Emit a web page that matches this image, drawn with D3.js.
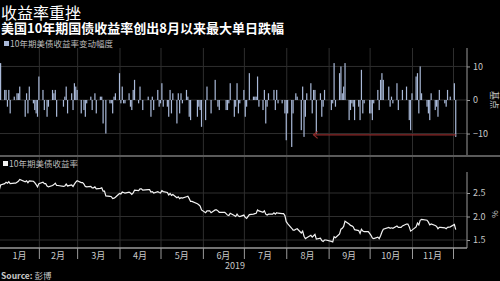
<!DOCTYPE html>
<html>
<head>
<meta charset="utf-8">
<script src="https://cdn.jsdelivr.net/npm/d3@7"></script>
<style>
  body { margin: 0; background: #000; }
  svg { display: block; font-family: "Noto Sans CJK SC", "Noto Sans", sans-serif; }
  .axis text { fill: #c8c8c8; font-size: 9px; font-family: "Noto Sans CJK SC", sans-serif; }
  .axis path, .axis line { stroke: #9a9a9a; }
  .grid line { stroke: #2e2e2e; }
  .grid path { display: none; }
</style>
</head>
<body>
<div id="chart"></div>
<script>
// trading days of 2019, one list per month
const tradingDays = [
  [2,3,4,7,8,9,10,11,14,15,16,17,18,22,23,24,25,28,29,30,31],
  [1,4,5,6,7,8,11,12,13,14,15,19,20,21,22,25,26,27,28],
  [1,4,5,6,7,8,11,12,13,14,15,18,19,20,21,22,25,26,27,28,29],
  [1,2,3,4,5,8,9,10,11,12,15,16,17,18,22,23,24,25,26,29,30],
  [1,2,3,6,7,8,9,10,13,14,15,16,17,20,21,22,23,24,28,29,30,31],
  [3,4,5,6,7,10,11,12,13,14,17,18,19,20,21,24,25,26,27,28],
  [1,2,3,5,8,9,10,11,12,15,16,17,18,19,22,23,24,25,26,29,30,31],
  [1,2,5,6,7,8,9,12,13,14,15,16,19,20,21,22,23,26,27,28,29,30],
  [3,4,5,6,9,10,11,12,13,16,17,18,19,20,23,24,25,26,27,30],
  [1,2,3,4,7,8,9,10,11,15,16,17,18,21,22,23,24,25,28,29,30,31],
  [1,4,5,6,7,8,12,13,14,15,18,19,20,21,22,25,26,27,29],
  [2,3]
];

// 10-year yield, %
const yields = [
  [2.66,2.56,2.67,2.70,2.73,2.71,2.74,2.70,2.71,2.71,2.73,2.75,2.79,2.74,2.76,2.72,2.76,2.75,2.72,2.68,2.63],
  [2.70,2.73,2.70,2.70,2.65,2.63,2.66,2.68,2.71,2.66,2.66,2.64,2.65,2.69,2.65,2.67,2.64,2.69,2.73],
  [2.76,2.72,2.72,2.69,2.64,2.63,2.64,2.61,2.61,2.63,2.59,2.60,2.61,2.54,2.54,2.44,2.43,2.42,2.38,2.39,2.41],
  [2.49,2.48,2.52,2.51,2.50,2.52,2.50,2.47,2.50,2.56,2.55,2.59,2.59,2.56,2.57,2.57,2.52,2.53,2.50,2.53,2.51],
  [2.50,2.55,2.53,2.51,2.46,2.49,2.45,2.47,2.40,2.42,2.38,2.40,2.39,2.42,2.43,2.38,2.32,2.32,2.27,2.25,2.22,2.14],
  [2.08,2.12,2.12,2.12,2.08,2.14,2.14,2.12,2.09,2.09,2.09,2.06,2.03,2.02,2.07,2.02,2.00,2.05,2.01,2.00],
  [2.03,1.98,1.96,2.04,2.05,2.06,2.07,2.14,2.12,2.09,2.12,2.05,2.03,2.05,2.05,2.08,2.05,2.08,2.07,2.06,2.06,2.02],
  [1.89,1.85,1.75,1.71,1.71,1.73,1.74,1.65,1.69,1.58,1.53,1.55,1.60,1.56,1.59,1.62,1.52,1.54,1.49,1.47,1.50,1.50],
  [1.47,1.46,1.57,1.55,1.63,1.73,1.75,1.79,1.90,1.84,1.81,1.80,1.78,1.72,1.70,1.64,1.73,1.69,1.68,1.68],
  [1.64,1.60,1.54,1.53,1.56,1.53,1.59,1.67,1.73,1.77,1.75,1.76,1.75,1.80,1.77,1.77,1.77,1.80,1.84,1.84,1.78,1.69],
  [1.71,1.78,1.86,1.82,1.92,1.94,1.92,1.88,1.82,1.84,1.81,1.79,1.74,1.77,1.77,1.76,1.74,1.77,1.78],
  [1.83,1.72]
];

// daily change, basis points
const changes = [
  [-3,-10,11,3,3,-2,3,-4,1,0,2,2,4,-5,2,-4,4,-1,-3,-4,-5],
  [7,3,-3,0,-5,-2,3,2,3,-5,0,-2,1,4,-4,2,-3,5,4],
  [3,-4,0,-3,-5,-1,1,-3,0,2,-4,1,1,-7,0,-10,-1,-1,-4,1,2],
  [8,-1,4,-1,-1,2,-2,-3,3,6,-1,4,0,-3,1,0,-5,1,-3,3,-2],
  [-1,5,-2,-2,-5,3,-4,2,-7,2,-4,2,-1,3,1,-5,-6,0,-5,-2,-3,-8],
  [-6,4,0,0,-4,6,0,-2,-3,0,0,-3,-3,-1,5,-5,-2,5,-4,-1],
  [3,-5,-2,8,1,1,1,7,-2,-3,3,-7,-2,2,0,3,-3,3,-1,-1,0,-4],
  [-12,-4,-14,-4,0,2,1,-9,4,-11,-5,2,5,-4,3,3,-10,2,-5,-2,3,0],
  [-3,-1,11,-2,8,10,2,4,11,-6,-3,-1,-2,-6,-2,-6,9,-4,-1,0],
  [-4,-4,-6,-1,3,-3,6,8,6,4,-2,1,-1,5,-3,0,0,3,4,0,-6,-9],
  [2,7,8,-4,10,2,-2,-4,-6,2,-3,-2,-5,3,0,-1,-2,3,1],
  [5,-11]
];

const monthLabels = ['1月','2月','3月','4月','5月','6月','7月','8月','9月','10月','11月'];
const barTicks = [-10, 0, 10];
const yieldTicks = [1.5, 2.0, 2.5];

const series = [];
tradingDays.forEach((days, m) => days.forEach((d, i) => {
    series.push({date: new Date(2019, m, d), yld: yields[m][i], chg: changes[m][i]});
}));

const width = 500, height = 281;
const plotRight = 467;

const svg = d3.select('#chart').append('svg')
    .attr('width', width)
    .attr('height', height)
    .style('background', '#000');

svg.append('defs').append('clipPath').attr('id', 'plotClip')
    .append('rect').attr('x', 0).attr('y', 0).attr('width', plotRight).attr('height', height);

// Titles
svg.append('text').attr('x', 1).attr('y', 18.5)
    .attr('fill', '#fff').style('font-size', '16px')
    .text('收益率重挫');
svg.append('text').attr('x', 1).attr('y', 33)
    .attr('fill', '#fff').style('font-size', '13px').style('font-weight', 'bold')
    .text('美国10年期国债收益率创出8月以来最大单日跌幅');

// Scales
const x = d3.scaleTime()
    .domain([new Date(2019, 0, 1), new Date(2019, 11, 1)])
    .range([-3.5, 453]);

const topPanel = {y0: 48, y1: 155};
const yBar = d3.scaleLinear().domain([-16.4, 15.5]).range([topPanel.y1, topPanel.y0]);

const botPanel = {y0: 157, y1: 248};
const yYield = d3.scaleLinear().domain([1.33, 2.947]).range([248, 172]);

const monthStarts = d3.timeMonth.range(new Date(2019, 1, 1), new Date(2019, 11, 2));

// ---------- top panel ----------
svg.append('g').attr('class', 'grid')
    .attr('transform', `translate(0,${topPanel.y1})`)
    .call(d3.axisBottom(x).tickValues(monthStarts).tickSize(-(topPanel.y1 - topPanel.y0)).tickFormat(''));

svg.append('g').attr('class', 'grid')
    .selectAll('line').data(barTicks).join('line')
    .attr('x1', 0).attr('x2', plotRight)
    .attr('y1', d => yBar(d)).attr('y2', d => yBar(d));

svg.append('g').attr('clip-path', 'url(#plotClip)')
    .selectAll('rect').data(series).join('rect')
    .attr('x', d => x(d.date) - 0.6)
    .attr('width', 1.2)
    .attr('y', d => yBar(Math.max(0, d.chg)))
    .attr('height', d => Math.abs(yBar(d.chg) - yBar(0)))
    .attr('fill', '#a9b9d8');

// red arrow pointing back to the previous comparable drop
const last = series[series.length - 1];
const arrowFrom = new Date(2019, 7, 21);
const arrowY = yBar(last.chg + 0.6);
svg.append('line')
    .attr('x1', x(arrowFrom)).attr('x2', x(last.date))
    .attr('y1', arrowY).attr('y2', arrowY)
    .attr('stroke', '#8e2a2a').attr('stroke-width', 1.4);
svg.append('path')
    .attr('d', `M${x(arrowFrom) + 4},${arrowY - 3.5}L${x(arrowFrom)},${arrowY}L${x(arrowFrom) + 4},${arrowY + 3.5}`)
    .attr('fill', 'none').attr('stroke', '#8e2a2a').attr('stroke-width', 1.3);

const yBarAxis = svg.append('g').attr('class', 'axis')
    .attr('transform', `translate(${plotRight},0)`)
    .call(d3.axisRight(yBar).tickValues(barTicks).tickSize(3).tickSizeOuter(0).tickPadding(3));
yBarAxis.select('.domain').attr('d', `M0,${topPanel.y0}V${topPanel.y1 + 1}`);

svg.append('text')
    .attr('transform', `translate(491,${yBar(0)}) rotate(90)`)
    .attr('text-anchor', 'middle')
    .attr('fill', '#c8c8c8').style('font-size', '9px')
    .text('基点');

// legend
svg.append('rect').attr('x', 4).attr('y', 41).attr('width', 5).attr('height', 5).attr('fill', '#a9b9d8');
svg.append('text').attr('x', 10).attr('y', 47)
    .attr('fill', '#bdbdbd').style('font-size', '8.5px')
    .text('10年期美债收益率变动幅度');

// separator
svg.append('line').attr('x1', 0).attr('x2', width).attr('y1', 156).attr('y2', 156)
    .attr('stroke', '#5a5a5a').attr('stroke-width', 2);

// ---------- bottom panel ----------
svg.append('g').attr('class', 'grid')
    .attr('transform', `translate(0,${botPanel.y1})`)
    .call(d3.axisBottom(x).tickValues(monthStarts).tickSize(-(botPanel.y1 - botPanel.y0)).tickFormat(''));

svg.append('g').attr('class', 'grid')
    .selectAll('line').data(yieldTicks).join('line')
    .attr('x1', 0).attr('x2', plotRight)
    .attr('y1', d => yYield(d)).attr('y2', d => yYield(d));

const line = d3.line()
    .x(d => x(d.date))
    .y(d => yYield(d.yld));

svg.append('path').datum(series)
    .attr('clip-path', 'url(#plotClip)')
    .attr('d', line)
    .attr('fill', 'none')
    .attr('stroke', '#f2f2f2')
    .attr('stroke-width', 1.2);

const yYieldAxis = svg.append('g').attr('class', 'axis')
    .attr('transform', `translate(${plotRight},0)`)
    .call(d3.axisRight(yYield).tickValues(yieldTicks).tickFormat(d3.format('.1f')).tickSize(3).tickSizeOuter(0).tickPadding(3));
yYieldAxis.select('.domain').attr('d', `M0,172V${botPanel.y1}`);

svg.append('text')
    .attr('transform', `translate(492,${yYield(2.05)}) rotate(90)`)
    .attr('text-anchor', 'middle')
    .attr('fill', '#c8c8c8').style('font-size', '8px')
    .text('%');

svg.append('rect').attr('x', 3).attr('y', 161).attr('width', 5).attr('height', 5).attr('fill', '#f2f2f2');
svg.append('text').attr('x', 9).attr('y', 167)
    .attr('fill', '#bdbdbd').style('font-size', '8.5px')
    .text('10年期美债收益率');

// x axis
const xAxisG = svg.append('g').attr('class', 'axis')
    .attr('transform', `translate(0,${botPanel.y1})`)
    .call(d3.axisBottom(x).tickValues(monthStarts).tickSize(11).tickSizeOuter(0).tickFormat(''));
xAxisG.select('.domain').attr('d', `M0,0H${plotRight}`).attr('stroke-width', 1.5);
xAxisG.selectAll('.tick line').attr('stroke', '#3a3a3a');

const bounds = [new Date(2019, 0, 1), ...monthStarts];
svg.append('g').selectAll('text').data(monthLabels).join('text')
    .attr('x', (d, i) => (Math.max(0, x(bounds[i])) + x(bounds[i + 1])) / 2)
    .attr('y', 259)
    .attr('text-anchor', 'middle')
    .attr('fill', '#c8c8c8').style('font-size', '9px')
    .text(d => d);

svg.append('text').attr('x', 235).attr('y', 269)
    .attr('text-anchor', 'middle')
    .attr('fill', '#c8c8c8').style('font-size', '9px')
    .text('2019');

// source
const src = svg.append('text').attr('x', 1).attr('y', 279)
    .attr('fill', '#c8c8c8').style('font-size', '8.5px');
src.append('tspan').style('font-weight', 'bold').text('Source: ');
src.append('tspan').text('彭博');
</script>
</body>
</html>
